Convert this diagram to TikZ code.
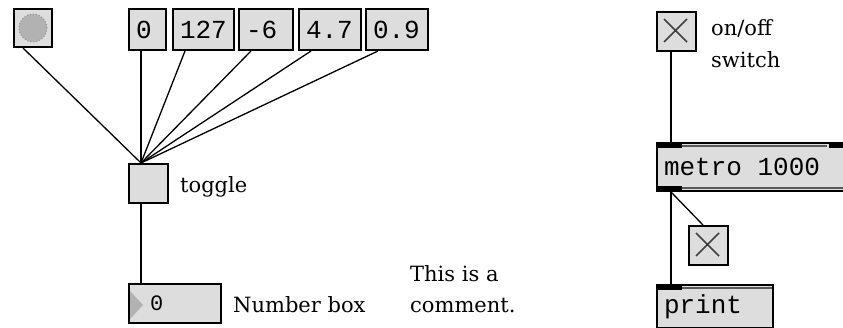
\documentclass[tikz,border=0pt]{standalone}
\usepackage{fontspec}
\newfontfamily\cmtfont{DejaVu Serif}
\newfontfamily\objfont{Liberation Mono}
\definecolor{boxgray}{HTML}{DDDDDD}
\newcommand\monosize[1]{\objfont\fontsize{#1}{#1}\selectfont}
\begin{document}
\begin{tikzpicture}[x=1pt,y=-1pt,
    patchbox/.style={draw,line width=2pt,fill=boxgray,anchor=north west,inner sep=0pt},
    numbox/.style={patchbox,minimum height=41pt,align=left,inner xsep=7pt,font=\monosize{26}},
    togglebox/.style={patchbox,minimum width=39pt,minimum height=39pt},
    objbox/.style={patchbox,align=left,inner xsep=7pt,font=\monosize{26},
        execute at begin node={\spaceskip=0.6em\relax}},
    cmt/.style={anchor=base west,inner sep=0pt,align=left,font=\cmtfont\fontsize{21}{32}\selectfont},
    cord/.style={line width=1.3pt},
    xmark/.style={line width=1.6pt,black!75}]
\useasboundingbox (0,0) rectangle (843,328);
\fill[white] (0,0) rectangle (843,328);

% bang button
\node[togglebox,minimum width=38pt,minimum height=38pt] (bang) at (13,8) {};
\fill[gray!60,draw=gray!85,line width=1pt,dotted] (bang.center) circle (14pt);

% number boxes along the top
\foreach \v/\x/\w in {0/128/23,127/172/47,-6/238/40,4.7/298/48,0.9/365/48}
    \node[numbox,text width=\w pt] (n\x) at (\x,8) {\v};

% toggle and number box
\node[togglebox] (tgl) at (128,163) {};
\node[cmt] (tgllabel) at (180,193) {toggle};
\node[patchbox,minimum width=92pt,minimum height=39pt] (nbox) at (128,283) {};
\fill[gray!60] (nbox.north west) ++(2,8) -- ++(13,14) -- ++(-13,14) -- cycle;
\node[anchor=west,inner sep=0pt,font=\monosize{22}] (nboxval) at ([xshift=22pt]nbox.west) {0};
\node[cmt] (nboxlabel) at (233,313) {Number box};
\node[cmt] (comment) at (410,313) {This is a\\comment.};

% wires into the toggle
\draw[cord] ([xshift=10pt]bang.south west) -- ([xshift=13pt]tgl.north west);
\foreach \x in {128,172,238,298,365}
    \draw[cord] ([xshift=13pt]n\x.south west) -- ([xshift=13pt]tgl.north west);
\draw[cord] ([xshift=13pt]tgl.south west) -- ([xshift=13pt]nbox.north west);

% metro patch
\node[togglebox] (sw) at (656,11) {};
\draw[xmark] (sw.north west) ++(8,8) -- ++(23,23) ++(0,-23) -- ++(-23,23);
\node[cmt] (swlabel) at (711,68) {on/off\\switch};

\node[objbox,text width=183pt,minimum height=48pt] (metro) at (656,142) {metro 1000};
\fill (metro.north west) rectangle ++(26,6);
\fill (metro.north east) ++(-26,0) rectangle ++(26,6);
\draw[gray!70!black,line width=1.5pt] (metro.north west) ++(26,4) -- ++(145,0);
\fill (metro.south west) rectangle ++(26,-6);
\draw[gray!70!black,line width=1.5pt] (metro.south west) ++(26,-4) -- ++(171,0);

\node[togglebox] (tick) at (688,225) {};
\draw[xmark] (tick.north west) ++(8,8) -- ++(23,23) ++(0,-23) -- ++(-23,23);

\node[objbox,text width=102pt,minimum height=43pt] (print) at (656,284) {print};
\fill (print.north west) rectangle ++(26,6);
\draw[gray!70!black,line width=1.5pt] (print.north west) ++(26,4) -- ++(90,0);

\draw[cord] ([xshift=15pt]sw.south west) -- ([xshift=15pt]metro.north west);
\draw[cord] ([xshift=15pt]metro.south west) -- ([xshift=15pt]print.north west);
\draw[cord] ([xshift=15pt]metro.south west) -- ([xshift=15pt]tick.north west);
\end{tikzpicture}
\end{document}
